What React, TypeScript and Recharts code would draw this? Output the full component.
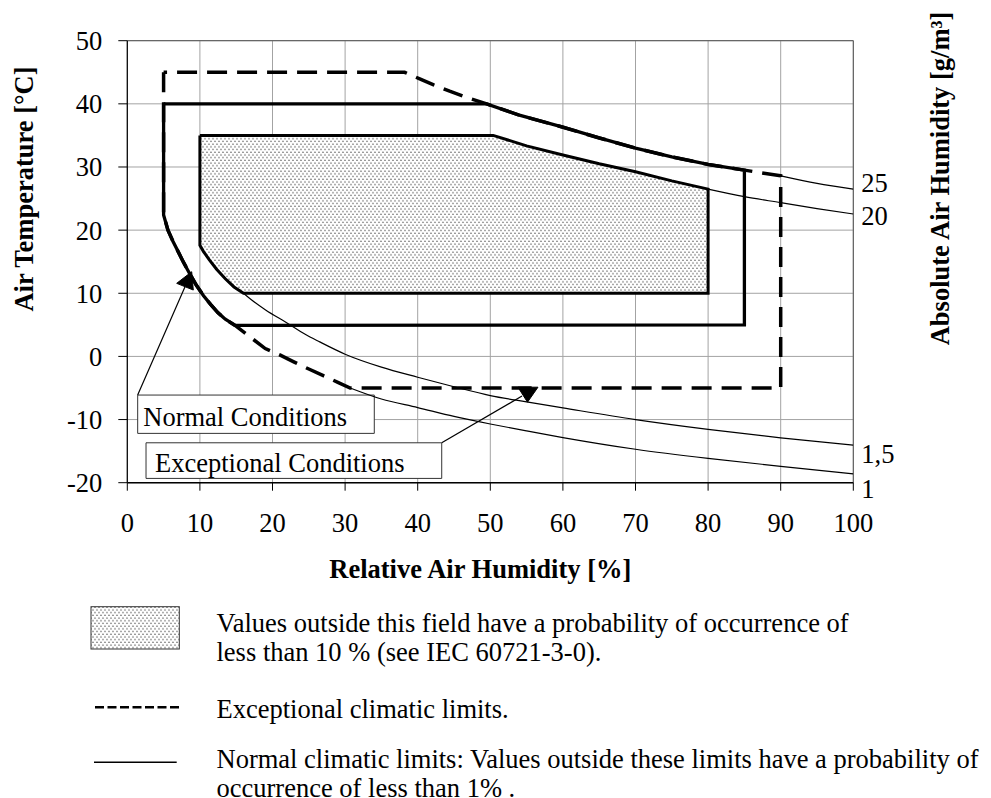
import React from 'react';
import {
  ComposedChart,
  XAxis,
  YAxis,
  CartesianGrid,
  Line,
  Area,
  ReferenceArea,
  ReferenceLine,
  ReferenceDot,
} from 'recharts';

const FONT = "'Liberation Serif', 'Times New Roman', Times, serif";
const FS = 26.5;

// ---- axes ----
const rhTicks = [0, 10, 20, 30, 40, 50, 60, 70, 80, 90, 100];
const tempTicks = [-20, -10, 0, 10, 20, 30, 40, 50];
const absHumLabels = ['25', '20', '1,5', '1'];
const absHumLabelTemp = [27.5, 22.3, -15.4, -21.0];

// ---- absolute humidity isolines (thin) ----
const iso25RH = [90, 95, 100];
const iso25T = [28.6, 27.4, 26.5];
const iso20RH = [80, 85, 90, 95, 100];
const iso20T = [26.5, 25.3, 24.35, 23.4, 22.55];
const iso15RH = [16, 17, 19, 22, 24.5, 26.5, 30, 35, 40, 45, 50, 55, 60, 70, 80, 90, 100];
const iso15T = [10, 9.05, 7.4, 5.3, 3.5, 2.3, 0.35, -1.7, -3.3, -4.8, -6.2, -7.2, -8.15, -10, -11.55, -12.9, -14.05];
const iso1RH = [30.7, 35, 40, 45, 50, 55, 60, 70, 80, 90, 100];
const iso1T = [-5, -6.75, -8.1, -9.5, -10.7, -11.8, -12.85, -14.7, -16.15, -17.4, -18.6];

// ---- normal climatic limits (solid) ----
const normalRH = [5, 49.5, 54, 60, 65, 70, 75, 80, 85, 85, 14.85, 13.5, 12.5, 11.5, 10.5, 9.5, 8.5, 7.7, 7.0, 6.3, 5.6, 5, 5];
const normalT = [40, 40, 38.2, 36.3, 34.6, 33.0, 31.6, 30.4, 29.5, 5, 4.9, 5.9, 6.9, 8.2, 9.6, 11.3, 13.3, 15.0, 16.6, 18.2, 20, 22.4, 40];

// ---- exceptional climatic limits (dashed) ----
const excRH = [5, 5, 5.6, 6.3, 7.0, 7.7, 8.5, 9.5, 10.5, 11.5, 12.5, 13.5, 14.85, 17, 19, 21, 23, 25, 27, 29, 30.7, 90, 90, 85, 80, 75, 70, 65, 60, 54, 49.5, 46.8, 44.4, 42.2, 40.2, 38.2, 5];
const excT = [45, 22.4, 20, 18.2, 16.6, 15.0, 13.3, 11.3, 9.6, 8.2, 6.9, 5.9, 4.9, 3.0, 1.25, 0.25, -0.9, -2.0, -3.05, -4.1, -5, -5, 28.6, 29.5, 30.4, 31.6, 33.0, 34.6, 36.3, 38.2, 40, 41, 42, 43, 44, 45, 45];

// ---- 10 % field (stippled) ----
const fieldRH = [10, 10.5, 11.3, 12.3, 13.5, 14.7, 16, 50.4, 55, 60, 65, 70, 75, 80];
const fieldLow = [17.6, 16.6, 15.3, 13.8, 12.3, 11.0, 10, 10, 10, 10, 10, 10, 10, 10];
const fieldHigh = [35, 35, 35, 35, 35, 35, 35, 35, 33.35, 31.9, 30.5, 29.25, 27.8, 26.5];

// ---- annotations ----
const noteTexts = ['Normal Conditions', 'Exceptional Conditions'];
const noteBoxRH = [[1.43, 34.02], [2.58, 43.31]];
const noteBoxT = [[-12.19, -6.12], [-19.32, -13.68]];
const leaderFrom = [[1.43, -6.12], [43.31, -13.68]];
const leaderTo = [[7.95, 11.03], [54.37, -6.28]];
const arrowTip = [[8.87, 13.41], [55.12, -7.25]];

const pts = (xs: number[], ys: number[]) => xs.map((x, i) => ({ x, y: ys[i] }));

const normalData = pts(normalRH, normalT);
const excData = pts(excRH, excT);
const iso25Data = pts(iso25RH, iso25T);
const iso20Data = pts(iso20RH, iso20T);
const iso15Data = pts(iso15RH, iso15T);
const iso1Data = pts(iso1RH, iso1T);
const fieldArea = fieldRH.map((x, i) => ({ x, range: [fieldLow[i], fieldHigh[i]] }));
const fieldOutline = [
  ...fieldRH.map((x, i) => ({ x, y: fieldHigh[i] })),
  ...fieldRH.map((x, i) => ({ x, y: fieldLow[i] })).reverse(),
  { x: fieldRH[0], y: fieldHigh[0] },
];

const arrowShapes = [
  [[0, 0], [-15, 11.6], [1.6, 18.3]],
  [[0, 0], [-9.5, -15], [10.5, -15]],
];
const notePad = [
  [5.6, 7.3],
  [9, 6.6],
];

const tickStyle = { fill: '#000', fontSize: FS, fontFamily: FONT };

const XTitle = (props: any) => {
  const vb = props.viewBox || {};
  return (
    <text x={vb.x + vb.width / 2 - 10} y={vb.y + 95.3} textAnchor="middle" fontFamily={FONT} fontSize={FS} fontWeight="bold" fill="#000">
      Relative Air Humidity [%]
    </text>
  );
};

const YTitle = (props: any) => {
  const vb = props.viewBox || {};
  const x = vb.x - 34;
  const y = vb.y + 148.3;
  return (
    <text x={x} y={y} transform={`rotate(-90, ${x}, ${y})`} textAnchor="middle" fontFamily={FONT} fontSize={FS} fontWeight="bold" fill="#000">
      Air Temperature [°C]
    </text>
  );
};

const RTitle = (props: any) => {
  const vb = props.viewBox || {};
  const x = vb.x + 95.7;
  const y = vb.y + 137.8;
  return (
    <text x={x} y={y} transform={`rotate(-90, ${x}, ${y})`} textAnchor="middle" fontFamily={FONT} fontSize={FS} fontWeight="bold" fill="#000">
      Absolute Air Humidity [g/m³]
    </text>
  );
};

const makeNoteLabel = (i: number) => (props: any) => {
  const vb = props.viewBox || {};
  return (
    <text x={vb.x + notePad[i][0]} y={vb.y + vb.height - notePad[i][1]} fontFamily={FONT} fontSize={FS} fill="#000">
      {noteTexts[i]}
    </text>
  );
};

const makeArrow = (i: number) => (props: any) => {
  const { cx, cy } = props;
  const p = arrowShapes[i].map(([dx, dy]) => `${cx + dx},${cy + dy}`).join(' ');
  return <polygon points={p} fill="#000" stroke="#000" strokeWidth={1} />;
};

const DotPattern = ({ id }: { id: string }) => (
  <pattern id={id} width="4" height="5.4" patternUnits="userSpaceOnUse">
    <rect width="4" height="5.4" fill="#fff" />
    <circle cx="1" cy="1.2" r="0.68" fill="#333" />
    <circle cx="3" cy="3.9" r="0.68" fill="#333" />
  </pattern>
);

export default function App() {
  return (
    <div style={{ position: 'relative', width: 975, height: 790, fontFamily: FONT }}>
      <ComposedChart width={975} height={590} margin={{ top: 32.7, right: 69.7, bottom: 55.3, left: 59.3 }}>
        <defs>
          <DotPattern id="dots" />
        </defs>
        <CartesianGrid stroke="#a3a3a3" strokeWidth={1} />
        <XAxis
          type="number"
          dataKey="x"
          domain={[0, 100]}
          ticks={rhTicks}
          interval={0}
          allowDataOverflow
          height={60}
          tick={tickStyle}
          tickSize={8}
          tickMargin={22}
          axisLine={{ stroke: '#000', strokeWidth: 1.5 }}
          tickLine={{ stroke: '#000', strokeWidth: 1 }}
          label={XTitle}
        />
        <YAxis
          type="number"
          domain={[-20, 50]}
          ticks={tempTicks}
          interval={0}
          allowDataOverflow
          width={60}
          tick={tickStyle}
          tickSize={9}
          tickMargin={16}
          axisLine={{ stroke: '#000', strokeWidth: 1.2 }}
          tickLine={{ stroke: '#000', strokeWidth: 1 }}
          label={YTitle}
        />
        <YAxis
          yAxisId="r"
          orientation="right"
          type="number"
          domain={[-20, 50]}
          ticks={absHumLabelTemp}
          interval={0}
          allowDataOverflow
          width={60}
          tick={tickStyle}
          tickSize={0}
          tickMargin={8}
          axisLine={false}
          tickLine={false}
          tickFormatter={(v: number) => absHumLabels[absHumLabelTemp.indexOf(v)]}
          label={RTitle}
        />
        <ReferenceLine y={50} stroke="#555" strokeWidth={1} />
        <ReferenceLine x={100} stroke="#555" strokeWidth={1} />

        <Area data={fieldArea} dataKey="range" type="linear" stroke="none" fill="url(#dots)" fillOpacity={1} isAnimationActive={false} activeDot={false} />
        <Line data={fieldOutline} dataKey="y" type="linear" stroke="#000" strokeWidth={3} dot={false} activeDot={false} isAnimationActive={false} />

        <Line data={iso25Data} dataKey="y" type="monotone" stroke="#000" strokeWidth={1.2} dot={false} activeDot={false} isAnimationActive={false} />
        <Line data={iso20Data} dataKey="y" type="monotone" stroke="#000" strokeWidth={1.2} dot={false} activeDot={false} isAnimationActive={false} />
        <Line data={iso15Data} dataKey="y" type="monotone" stroke="#000" strokeWidth={1.2} dot={false} activeDot={false} isAnimationActive={false} />
        <Line data={iso1Data} dataKey="y" type="monotone" stroke="#000" strokeWidth={1.2} dot={false} activeDot={false} isAnimationActive={false} />

        <Line data={excData} dataKey="y" type="linear" stroke="#000" strokeWidth={3.5} strokeDasharray="20 10" dot={false} activeDot={false} isAnimationActive={false} />
        <Line data={normalData} dataKey="y" type="linear" stroke="#000" strokeWidth={3.3} dot={false} activeDot={false} isAnimationActive={false} />

        {noteTexts.map((t, i) => (
          <ReferenceArea
            key={t}
            x1={noteBoxRH[i][0]}
            x2={noteBoxRH[i][1]}
            y1={noteBoxT[i][0]}
            y2={noteBoxT[i][1]}
            fill="#fff"
            fillOpacity={1}
            stroke="#333"
            strokeWidth={1}
            label={makeNoteLabel(i)}
          />
        ))}
        {noteTexts.map((t, i) => (
          <ReferenceLine
            key={'l' + t}
            segment={[
              { x: leaderFrom[i][0], y: leaderFrom[i][1] },
              { x: leaderTo[i][0], y: leaderTo[i][1] },
            ]}
            stroke="#000"
            strokeWidth={1.2}
          />
        ))}
        {noteTexts.map((t, i) => (
          <ReferenceDot key={'d' + t} x={arrowTip[i][0]} y={arrowTip[i][1]} r={1} shape={makeArrow(i)} />
        ))}
      </ComposedChart>

      <svg width={975} height={210} style={{ position: 'absolute', left: 0, top: 590 }}>
        <defs>
          <DotPattern id="dotsLegend" />
        </defs>
        <rect x={83} y={8.7} width={88.3} height={42.3} fill="url(#dotsLegend)" stroke="#333" strokeWidth={1} />
        <text x={208.5} y={33.7} fontFamily={FONT} fontSize={FS} fill="#000">
          Values outside this field have a probability of occurrence of
        </text>
        <text x={208.5} y={63.3} fontFamily={FONT} fontSize={FS} fill="#000">
          less than 10 % (see IEC 60721-3-0).
        </text>
        <line x1={87} x2={171.3} y1={109.3} y2={109.3} stroke="#000" strokeWidth={2.5} strokeDasharray="9 3.5" />
        <text x={208.5} y={120.3} fontFamily={FONT} fontSize={FS} fill="#000">
          Exceptional climatic limits.
        </text>
        <line x1={86} x2={168.7} y1={164.3} y2={164.3} stroke="#000" strokeWidth={1.5} />
        <text x={208.5} y={170.3} fontFamily={FONT} fontSize={FS} fill="#000">
          Normal climatic limits: Values outside these limits have a probability of
        </text>
        <text x={208.5} y={199} fontFamily={FONT} fontSize={FS} fill="#000">
          occurrence of less than 1% .
        </text>
      </svg>
    </div>
  );
}
